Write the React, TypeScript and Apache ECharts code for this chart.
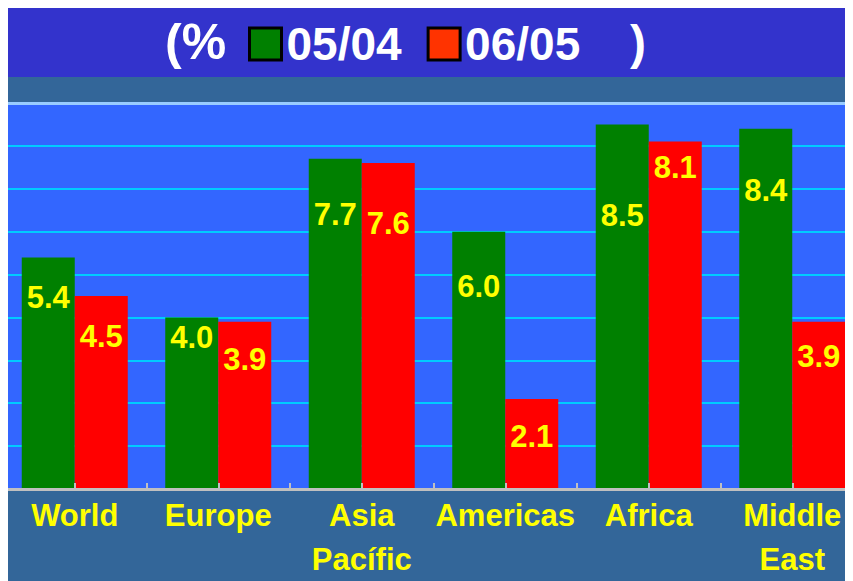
import React, { useEffect, useRef } from "react";
import * as echarts from "echarts";

const categories = ["World", "Europe", "Asia\nPacífic", "Americas", "Africa", "Middle\nEast"];
const series0504 = [5.4, 4.0, 7.7, 6.0, 8.5, 8.4];
const series0605 = [4.5, 3.9, 7.6, 2.1, 8.1, 3.9];
const seriesNames = ["05/04", "06/05"];
const yTicks = [0, 9, 1]; // min, max, interval

// label nudges (styling only): distance of value label below the bar top
const labelDrop0504 = [24, 4, 39, 38, 75, 45];
const labelDrop0605 = [24, 21, 44, 21, 9, 18];

const FONT = "'Liberation Sans', Arial, sans-serif";
const SHIFT = 5; // inner chart canvas starts 5px left of the visible frame

function makeSeries(name: string, values: number[], drops: number[], color: string) {
  return {
    name,
    type: "bar",
    barWidth: 53,
    barGap: "0%",
    itemStyle: { color },
    data: values.map((v, i) => ({
      value: v,
      label: { distance: drops[i] },
    })),
    label: {
      show: true,
      position: "insideTop",
      color: "#ffff00",
      fontFamily: FONT,
      fontWeight: "bold",
      fontSize: 31,
      lineHeight: 33,
      formatter: (p: any) => Number(p.value).toFixed(1),
    },
  };
}

export default function App() {
  const ref = useRef<HTMLDivElement>(null);
  useEffect(() => {
    if (!ref.current) return;
    const chart = echarts.init(ref.current, null, { renderer: "svg" });
    chart.setOption({
      animation: false,
      backgroundColor: "#336699",
      graphic: [
        {
          type: "rect",
          z: -10,
          shape: { x: 0, y: 0, width: 870, height: 69 },
          style: { fill: "#3333cc" },
        },
        {
          type: "text",
          left: 157 + SHIFT,
          top: 9,
          style: { text: "(%", fill: "#ffffff", font: `bold 50px ${FONT}` },
        },
        {
          type: "text",
          left: 622 + SHIFT,
          top: 10,
          style: { text: ")", fill: "#ffffff", font: `bold 48px ${FONT}` },
        },
      ],
      legend: {
        left: 240 + SHIFT,
        top: 13,
        padding: 0,
        itemGap: 25,
        itemWidth: 32,
        itemHeight: 32,
        icon: "rect",
        selectedMode: false,
        textStyle: { color: "#ffffff", fontSize: 46, fontWeight: "bold", fontFamily: FONT },
        data: [
          { name: seriesNames[0], itemStyle: { color: "#008000", borderColor: "#000000", borderWidth: 3 } },
          { name: seriesNames[1], itemStyle: { color: "#ff3300", borderColor: "#000000", borderWidth: 3 } },
        ],
      },
      grid: {
        left: 0,
        right: 0,
        top: 95,
        bottom: 90,
        show: true,
        backgroundColor: "#3366ff",
        borderWidth: 0,
        containLabel: false,
      },
      xAxis: [
        {
          type: "category",
          data: categories,
          position: "bottom",
          z: 5,
          axisLine: { show: true, lineStyle: { color: "#c0c0c0", width: 3 } },
          axisTick: { show: true, inside: true, length: 6, lineStyle: { color: "#c0c0c0", width: 2 } },
          axisLabel: {
            color: "#ffff00",
            fontFamily: FONT,
            fontWeight: "bold",
            fontSize: 31,
            lineHeight: 44,
            margin: 4,
            interval: 0,
          },
        },
        {
          type: "category",
          data: categories,
          position: "bottom",
          z: 5,
          axisLine: { show: false },
          axisTick: {
            show: true,
            inside: true,
            alignWithLabel: true,
            length: 6,
            lineStyle: { color: "#c0c0c0", width: 2 },
          },
          axisLabel: { show: false },
        },
        {
          type: "category",
          data: categories,
          position: "top",
          axisLine: { show: true, lineStyle: { color: "#99ccff", width: 3 } },
          axisTick: { show: false },
          axisLabel: { show: false },
        },
      ],
      yAxis: {
        type: "value",
        min: yTicks[0],
        max: yTicks[1],
        interval: yTicks[2],
        axisLine: { show: false },
        axisTick: { show: false },
        axisLabel: { show: false },
        splitLine: { show: true, showMaxLine: false, lineStyle: { color: "#00ccff", width: 2 } },
      },
      series: [
        makeSeries(seriesNames[0], series0504, labelDrop0504, "#008000"),
        makeSeries(seriesNames[1], series0605, labelDrop0605, "#ff0000"),
      ],
    });
    return () => chart.dispose();
  }, []);
  return (
    <div style={{ width: 845, height: 573, overflow: "hidden", position: "relative" }}>
      <div ref={ref} style={{ position: "absolute", left: -SHIFT, top: 0, width: 861, height: 573 }} />
    </div>
  );
}
